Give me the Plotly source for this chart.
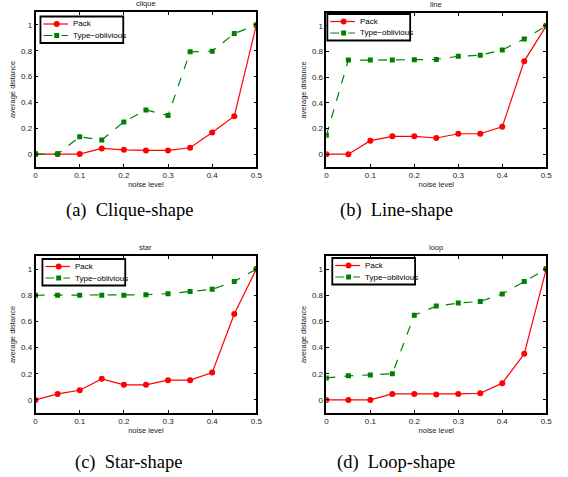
import plotly.graph_objects as go

noise = [0, 0.05, 0.1, 0.15, 0.2, 0.25, 0.3, 0.35, 0.4, 0.45, 0.5]

clique_pack = [0, 0, 0, 0.044, 0.033, 0.028, 0.028, 0.049, 0.167, 0.293, 1.0]
clique_type = [0, 0, 0.134, 0.11, 0.249, 0.342, 0.298, 0.792, 0.797, 0.933, 1.0]

line_pack = [0, 0, 0.105, 0.139, 0.139, 0.126, 0.159, 0.159, 0.213, 0.725, 1.0]
line_type = [0.147, 0.733, 0.733, 0.733, 0.735, 0.738, 0.763, 0.771, 0.812, 0.897, 1.0]

star_pack = [0, 0.046, 0.074, 0.161, 0.115, 0.115, 0.151, 0.151, 0.209, 0.656, 1.0]
star_type = [0.8, 0.8, 0.8, 0.8, 0.8, 0.804, 0.812, 0.828, 0.845, 0.906, 1.0]

loop_pack = [0, 0, 0, 0.046, 0.046, 0.041, 0.046, 0.051, 0.128, 0.352, 1.0]
loop_type = [0.168, 0.184, 0.191, 0.2, 0.648, 0.717, 0.74, 0.753, 0.809, 0.906, 1.0]

titles = ["clique", "line", "star", "loop"]
captions = ["(a)  Clique-shape", "(b)  Line-shape", "(c)  Star-shape", "(d)  Loop-shape"]
series_names = ["Pack", "Type\u2212oblivious"]
x_ticks = [0, 0.1, 0.2, 0.3, 0.4, 0.5]
x_tick_labels = ["0", "0.1", "0.2", "0.3", "0.4", "0.5"]
y_ticks = [0, 0.2, 0.4, 0.6, 0.8, 1]
y_tick_labels = ["0", "0.2", "0.4", "0.6", "0.8", "1"]

panels = [
    (clique_pack, clique_type),
    (line_pack, line_type),
    (star_pack, star_type),
    (loop_pack, loop_type),
]

W, H = 568, 477
# pixel boxes: left, right, top, bottom
boxes = [
    (34, 258, 12, 167),
    (329, 552, 13, 167),
    (34, 258, 256, 413),
    (329, 552, 256, 413),
]
legend_pos = [(39, 16.5), (330, 14), (41, 259), (335, 258)]
caption_pos = [(129, 210), (400, 210), (129, 462), (400, 462)]

FONT = "Liberation Sans, Arial, sans-serif"
RED = "#ff0000"
GREEN = "#008000"


def px(x):
    return x / W


def py(y):
    return 1 - y / H


fig = go.Figure()
layout = dict(
    width=W, height=H,
    margin=dict(l=0, r=0, t=0, b=0),
    paper_bgcolor="white", plot_bgcolor="white",
    font=dict(family=FONT, size=8, color="black"),
    showlegend=False,
)
annotations = []
shapes = []

for i, (pack, typ) in enumerate(panels):
    n = i + 1
    xa = "x" if n == 1 else f"x{n}"
    ya = "y" if n == 1 else f"y{n}"
    fig.add_trace(go.Scatter(
        x=noise, y=pack, mode="lines+markers", name=series_names[0],
        xaxis=xa, yaxis=ya,
        line=dict(color=RED, width=1.2),
        marker=dict(symbol="circle", size=6, color=RED),
    ))
    fig.add_trace(go.Scatter(
        x=noise, y=typ, mode="lines+markers", name=series_names[1],
        xaxis=xa, yaxis=ya,
        line=dict(color=GREEN, width=1.2, dash="dash"),
        marker=dict(symbol="square", size=5, color=GREEN),
    ))
    l, r, t, b = boxes[i]
    xkey = "xaxis" if n == 1 else f"xaxis{n}"
    ykey = "yaxis" if n == 1 else f"yaxis{n}"
    layout[xkey] = dict(
        domain=[l / W, r / W], anchor=ya, range=[0, 0.5],
        tickvals=x_ticks, ticktext=x_tick_labels,
        ticks="inside", ticklen=3, tickcolor="black", tickwidth=1,
        showline=True, linecolor="black", linewidth=1.5, mirror="allticks",
        showgrid=False, zeroline=False,
        tickfont=dict(size=8, family=FONT, color="#222"),
        title=dict(text="noise level", font=dict(size=7.5, family=FONT, color="#222"), standoff=2),
    )
    layout[ykey] = dict(
        domain=[1 - b / H, 1 - t / H], anchor=xa, range=[-0.1, 1.1],
        tickvals=y_ticks, ticktext=y_tick_labels,
        ticks="inside", ticklen=3, tickcolor="black", tickwidth=1,
        showline=True, linecolor="black", linewidth=1.5, mirror="allticks",
        showgrid=False, zeroline=False,
        tickfont=dict(size=8, family=FONT, color="#222"),
        title=dict(text="average distance", font=dict(size=7.5, family=FONT, color="#222"), standoff=4),
    )
    # manual legend box
    lx, ly = legend_pos[i]
    shapes.append(dict(type="rect", xref="paper", yref="paper",
                       x0=px(lx), x1=px(lx + 84), y0=py(ly), y1=py(ly + 26.5),
                       line=dict(color="black", width=1.8), fillcolor="white", layer="above"))
    rows = [(ly + 7.5, RED, "solid", "circle", series_names[0]),
            (ly + 19, GREEN, "dash", "square", series_names[1])]
    for (ry, col, dash, sym, name) in rows:
        shapes.append(dict(type="line", xref="paper", yref="paper",
                           x0=px(lx + 3), x1=px(lx + 28), y0=py(ry), y1=py(ry),
                           line=dict(color=col, width=1.2, dash=dash), layer="above"))
        mx = lx + 16.5
        if sym == "circle":
            shapes.append(dict(type="circle", xref="paper", yref="paper",
                               x0=px(mx - 3), x1=px(mx + 3), y0=py(ry - 3), y1=py(ry + 3),
                               line=dict(color=col, width=0), fillcolor=col, layer="above"))
        else:
            shapes.append(dict(type="rect", xref="paper", yref="paper",
                               x0=px(mx - 2.5), x1=px(mx + 2.5), y0=py(ry - 2.5), y1=py(ry + 2.5),
                               line=dict(color=col, width=0), fillcolor=col, layer="above"))
        annotations.append(dict(
            text=name, x=px(lx + 31), y=py(ry), xref="paper", yref="paper",
            xanchor="left", yanchor="middle", showarrow=False,
            font=dict(size=8, family=FONT, color="black"),
        ))
    annotations.append(dict(
        text=titles[i], x=(l + r) / 2 / W, y=1 - (t - 2) / H,
        xref="paper", yref="paper", xanchor="center", yanchor="bottom",
        showarrow=False, font=dict(size=7.5, family=FONT, color="#222"),
    ))
    cx, cy = caption_pos[i]
    annotations.append(dict(
        text=captions[i], x=cx / W, y=1 - cy / H,
        xref="paper", yref="paper", xanchor="center", yanchor="middle",
        showarrow=False, font=dict(size=18.5, family="Liberation Serif, Times New Roman, serif", color="black"),
    ))

layout["annotations"] = annotations
layout["shapes"] = shapes
fig.update_layout(**layout)
fig.write_html("out.html", config={"displayModeBar": False},
               post_script="document.body.style.margin='0';document.body.style.padding='0';")
